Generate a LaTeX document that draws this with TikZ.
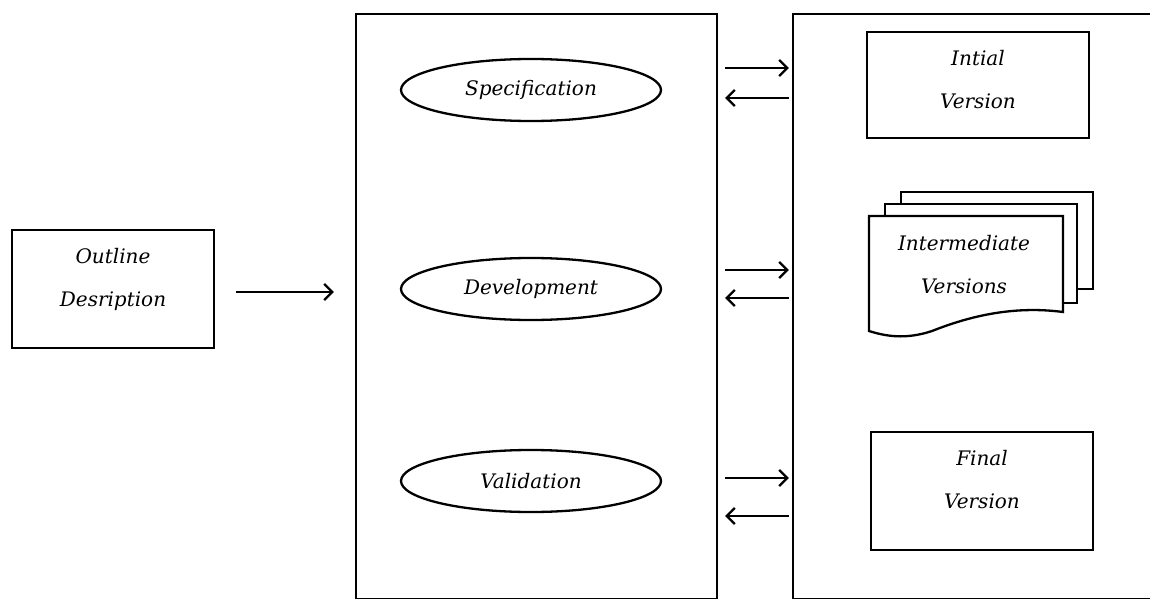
\documentclass[tikz,border=0pt]{standalone}
\usepackage{fontspec}
\setmainfont{DejaVu Serif}
\usetikzlibrary{arrows.meta}
\usetikzlibrary{shapes.geometric}
\usetikzlibrary{positioning}

\begin{document}
\begin{tikzpicture}[x=1pt, y=-1pt, line width=2.3pt,
  txt/.style={font={\fontsize{20}{43}\selectfont\itshape}, align=center},
  box/.style={draw, rectangle, inner sep=0},
  task/.style={draw, ellipse, minimum width=260, minimum height=62, txt},
  arr/.style={-{Straight Barb[length=8pt, width=16pt]}}]
\useasboundingbox (0,0) rectangle (1150,599);
% left input
\node[box, minimum width=202, minimum height=118] (outline) at (113,289) {};
\node[txt] (outlinetxt) at (113,279) {Outline\\Desription};
% process column
\node[box, minimum width=361, minimum height=585] (proc) at (536.5,306.5) {};
\node[task] (spec) at (531,90) {Specification};
\node[task] (dev) at (531,289) {Development};
\node[task] (valid) at (531,481) {Validation};
% versions column
\node[box, minimum width=362, minimum height=585] (store) at (974,306.5) {};
\node[box, minimum width=222, minimum height=106] (initial) at (978,85) {};
\node[txt] (initialtxt) at (978,80) {Intial\\Version};
\draw[fill=white] (901,192) rectangle (1093,289);
\draw[fill=white] (885,204) rectangle (1077,303);
\draw[fill=white] (869,216) -- (1063,216) -- (1063,312)
  .. controls (1010,305) and (965,318) .. (932,331)
  .. controls (905,340) and (885,336) .. (869,331) -- cycle;
\node[txt] (inter) at (964,265) {Intermediate\\Versions};
\node[box, minimum width=222, minimum height=118] (final) at (982,491) {};
\node[txt] (finaltxt) at (982,480) {Final\\Version};
% connectors
\draw[arr] ([xshift=21]outline.east |- 0,292) -- ([xshift=-21]proc.west |- 0,292);
\draw[arr] ([xshift=7]proc.east |- 0,68) -- ([xshift=-3]store.west |- 0,68);
\draw[arr] ([xshift=-3]store.west |- 0,98) -- ([xshift=7]proc.east |- 0,98);
\draw[arr] ([xshift=7]proc.east |- 0,270) -- ([xshift=-3]store.west |- 0,270);
\draw[arr] ([xshift=-3]store.west |- 0,298) -- ([xshift=7]proc.east |- 0,298);
\draw[arr] ([xshift=7]proc.east |- 0,478) -- ([xshift=-3]store.west |- 0,478);
\draw[arr] ([xshift=-3]store.west |- 0,516) -- ([xshift=7]proc.east |- 0,516);
\end{tikzpicture}
\end{document}
